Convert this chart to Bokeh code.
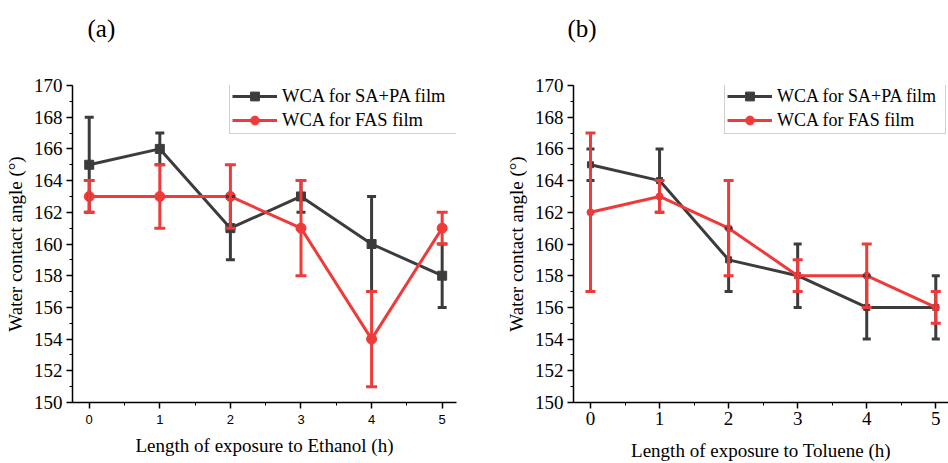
from bokeh.plotting import figure
from bokeh.models import ColumnDataSource, Whisker, TeeHead, Legend, LegendItem, FixedTicker
from bokeh.layouts import row
from bokeh.embed import file_html
from bokeh.resources import INLINE

hours = [0, 1, 2, 3, 4, 5]

# (a) Ethanol
eth_sapa = [165, 166, 161, 163, 160, 158]
eth_sapa_err = [3, 1, 2, 1, 3, 2]
eth_fas = [163, 163, 163, 161, 154, 161]
eth_fas_err = [1, 2, 2, 3, 3, 1]

# (b) Toluene
tol_sapa = [165, 164, 159, 158, 156, 156]
tol_sapa_err = [1, 2, 2, 2, 2, 2]
tol_fas = [162, 163, 161, 158, 158, 156]
tol_fas_err = [5, 1, 3, 1, 2, 1]

y_ticks = [150, 152, 154, 156, 158, 160, 162, 164, 166, 168, 170]
x_ticks = [0, 1, 2, 3, 4, 5]

DARK = "#3c3c3c"
RED = "#f03a3a"
SERIF = "Liberation Serif"


def make_panel(tag, tag_offset, xlabel, sapa, sapa_err, fas, fas_err, width, borders, x_rng,
               xtick_font, xtick_size, xtick_standoff, xlab_standoff,
               msq, mci, cap, leg_pos, leg_font, leg_label_w):
    bl, br, bt, bb = borders
    p = figure(width=width, height=463, output_backend="svg", toolbar_location=None,
               x_range=x_rng, y_range=(150, 170),
               min_border_left=bl, min_border_right=br, min_border_top=bt, min_border_bottom=bb)
    p.outline_line_color = None
    p.grid.visible = False
    p.background_fill_color = "white"
    p.border_fill_color = "white"

    # panel tag (second blank line lifts the tag towards the top edge)
    p.title.text = tag + "\n "
    p.title.align = "left"
    p.title.vertical_align = "top"
    p.title.offset = tag_offset
    p.title.standoff = 29
    p.title.text_font = SERIF
    p.title.text_font_size = "25px"
    p.title.text_font_style = "normal"
    p.title.text_color = "black"

    # axes
    p.yaxis.ticker = FixedTicker(ticks=y_ticks, minor_ticks=list(range(150, 171)))
    p.xaxis.ticker = FixedTicker(ticks=x_ticks, minor_ticks=[i * 0.5 for i in range(-1, 12)])
    for ax in (p.xaxis[0], p.yaxis[0]):
        ax.axis_line_color = "black"
        ax.axis_line_width = 1.5
        ax.major_tick_line_color = "black"
        ax.minor_tick_line_color = "black"
        ax.major_tick_line_width = 1.5
        ax.minor_tick_line_width = 1
        ax.major_tick_in = 0
        ax.major_tick_out = 6
        ax.minor_tick_in = 0
        ax.minor_tick_out = 3
        ax.major_label_text_color = "black"
        ax.axis_label_text_color = "black"
        ax.axis_label_text_font = SERIF
        ax.axis_label_text_font_style = "normal"
        ax.axis_label_text_font_size = "19px"
    p.yaxis.axis_label = "Water contact angle (°)"
    p.yaxis.major_label_text_font = SERIF
    p.yaxis.major_label_text_font_size = "19px"
    p.yaxis.major_label_standoff = 4
    p.yaxis.axis_label_standoff = 5
    p.xaxis.axis_label = xlabel
    p.xaxis.major_label_text_font = xtick_font
    p.xaxis.major_label_text_font_size = xtick_size
    p.xaxis.major_label_standoff = xtick_standoff
    p.xaxis.axis_label_standoff = xlab_standoff

    src_d = ColumnDataSource(dict(x=hours, y=sapa,
                                  lo=[v - e for v, e in zip(sapa, sapa_err)],
                                  hi=[v + e for v, e in zip(sapa, sapa_err)]))
    src_r = ColumnDataSource(dict(x=hours, y=fas,
                                  lo=[v - e for v, e in zip(fas, fas_err)],
                                  hi=[v + e for v, e in zip(fas, fas_err)]))

    ld = p.line("x", "y", source=src_d, line_color=DARK, line_width=3)
    sd = p.scatter("x", "y", source=src_d, marker="square", size=msq,
                   fill_color=DARK, line_color=DARK)
    wd = Whisker(base="x", upper="hi", lower="lo", source=src_d, dimension="height",
                 line_color=DARK, line_width=3, level="glyph",
                 upper_head=TeeHead(size=cap, line_color=DARK, line_width=3),
                 lower_head=TeeHead(size=cap, line_color=DARK, line_width=3))
    p.add_layout(wd)

    lr = p.line("x", "y", source=src_r, line_color=RED, line_width=3)
    sr = p.scatter("x", "y", source=src_r, marker="circle", size=mci,
                   fill_color=RED, line_color=RED)
    wr = Whisker(base="x", upper="hi", lower="lo", source=src_r, dimension="height",
                 line_color=RED, line_width=3, level="glyph",
                 upper_head=TeeHead(size=cap + 2, line_color=RED, line_width=3),
                 lower_head=TeeHead(size=cap + 2, line_color=RED, line_width=3))
    p.add_layout(wr)

    legend = Legend(items=[LegendItem(label="WCA for SA+PA film", renderers=[ld, sd]),
                           LegendItem(label="WCA for FAS film", renderers=[lr, sr])],
                    location=leg_pos, margin=0, padding=2, spacing=2,
                    glyph_width=45, glyph_height=22, label_standoff=5,
                    label_height=22, label_width=leg_label_w,
                    label_text_font=SERIF, label_text_font_size=leg_font,
                    label_text_color="black", label_text_baseline="middle",
                    border_line_color="#a0a0a0", border_line_width=1.2,
                    background_fill_alpha=1)
    p.add_layout(legend)
    return p


p1 = make_panel("(a)", 15, "Length of exposure to Ethanol (h)", eth_sapa, eth_sapa_err,
                eth_fas, eth_fas_err, 474, (72, 18, 84, 59), (-0.237, 5.203),
                "Liberation Sans", "13px", 6, 8,
                9, 10, 9, (157, 268), "18.5px", 172)
p2 = make_panel("(b)", -6, "Length of exposure to Toluene (h)", tol_sapa, tol_sapa_err,
                tol_fas, tol_fas_err, 474, (99, 0, 83, 60), (-0.246, 5.184),
                SERIF, "19px", 3, 12,
                6, 7, 8, (151, 268), "18px", 166)

layout = row(p1, p2)
open("out.html", "w").write(file_html(layout, INLINE))
